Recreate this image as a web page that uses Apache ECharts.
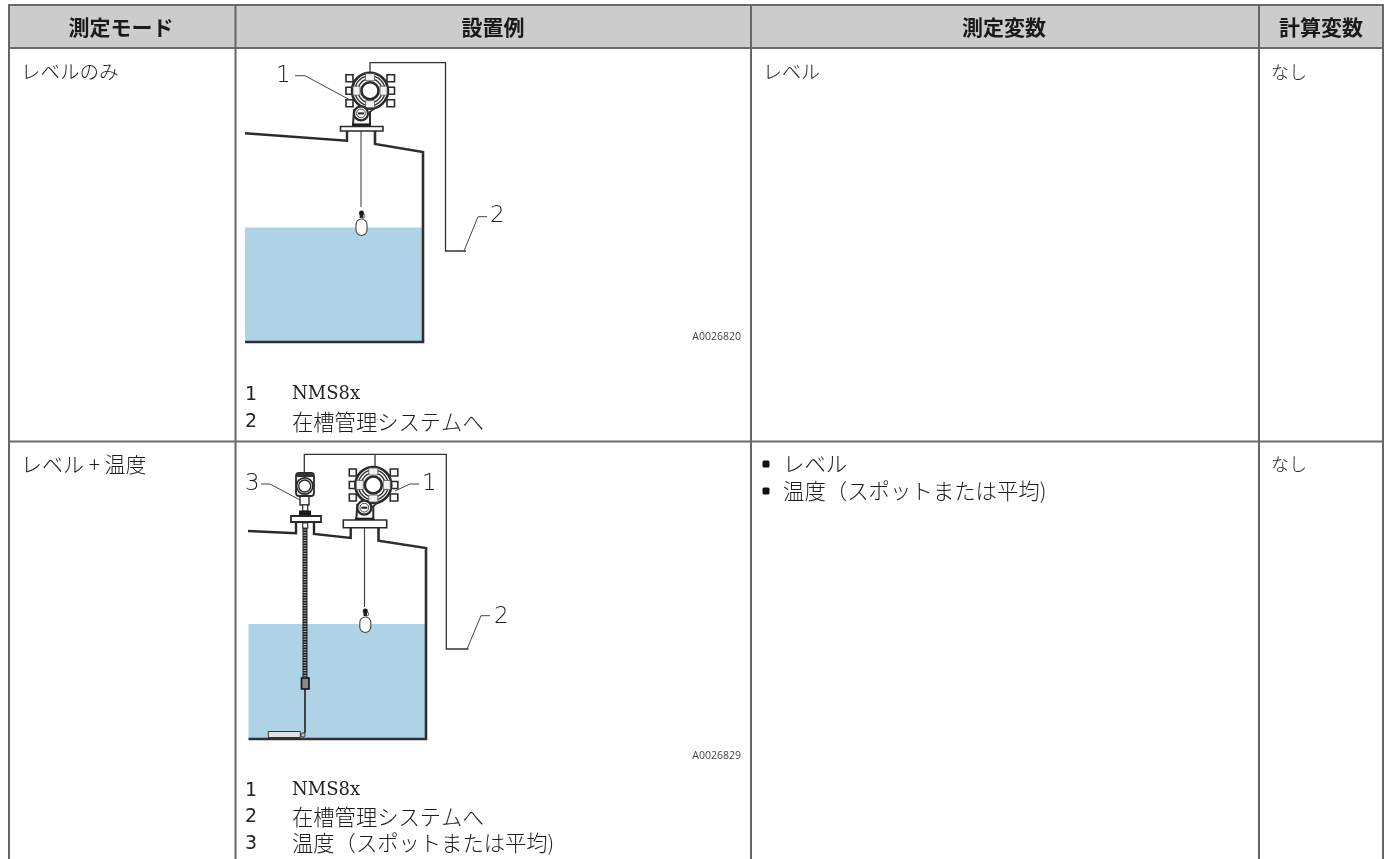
<!DOCTYPE html>
<html><head><meta charset="utf-8">
<style>html,body{margin:0;padding:0;background:#fff}#c{width:1391px;height:859px}</style>
<script src="https://cdn.jsdelivr.net/npm/echarts@6/dist/echarts.min.js"></script>
</head><body><div id="c"></div>
<script>
const headers = ['測定モード', '設置例', '測定変数', '計算変数'];
const modes = ['レベルのみ', 'レベル + 温度'];
const measured = [['レベル'], ['レベル', '温度（スポットまたは平均)']];
const calculated = ['なし', 'なし'];
const legend1 = [['1', 'NMS8x'], ['2', '在槽管理システムへ']];
const legend2 = [['1', 'NMS8x'], ['2', '在槽管理システムへ'], ['3', '温度（スポットまたは平均)']];
const figureIds = ['A0026820', 'A0026829'];

const CJK = '"Noto Sans CJK JP","Noto Sans",sans-serif';
const g = [];
const INK = '#2a2a2a';
function T(x, y, s, o = {}) {
  g.push({ type: 'text', z: 5, style: { x, y, text: s, fill: o.fill || '#1c1c1c', align: o.align || 'left', verticalAlign: 'middle',
    font: `${o.weight || '300'} ${o.size || 20.5}px ${o.family || CJK}` } });
}
function L(points, w = 1, c = INK, extra = {}) {
  g.push({ type: 'polyline', z: extra.z || 3, shape: { points }, style: Object.assign({ stroke: c, lineWidth: w, fill: null }, extra.style || {}) });
}
function R(x, y, w, h, fill, stroke, lw = 1, r = 0, z = 3) {
  g.push({ type: 'rect', z, shape: { x, y, width: w, height: h, r }, style: { fill, stroke: stroke || null, lineWidth: lw } });
}
function C(cx, cy, r, fill, stroke, lw = 1, z = 4) {
  g.push({ type: 'circle', z, shape: { cx, cy, r }, style: { fill, stroke, lineWidth: lw } });
}

/* table */
R(9, 5, 1374, 43, '#cccccc', null, 0, 0, 1);
const colX = [9, 235.5, 751, 1259, 1383];
colX.forEach(x => L([[x, 5], [x, 859]], 2, '#666', { z: 2 }));
[5, 48, 441.5].forEach(y => L([[8, y], [1384, y]], 2, '#6a6a6a', { z: 2 }));
const headCx = [121, 493, 1004, 1321];
headers.forEach((h, i) => T(headCx[i], 27, h, { align: 'center', weight: 'bold', size: 21, fill: '#1a1a1a' }));
T(21, 72, modes[0], { size: 19.5 }); T(21, 464, modes[1], { size: 21 });
T(763, 72, measured[0][0], { size: 19 });
T(1271, 72, calculated[0], { size: 18 }); T(1271, 464, calculated[1], { size: 18 });
[464, 491].forEach((y, i) => {
  R(762.5, y - 3.5, 7, 7, '#111', null, 0, 1.5);
  T(783, y, measured[1][i], { size: 21.4 });
});
const idStyle = { align: 'right', size: 10.5, family: '"Open Sans","DejaVu Sans",sans-serif', fill: '#444', weight: 'normal' };
T(741, 337, figureIds[0], idStyle);
T(741, 756, figureIds[1], idStyle);
function legend(rows, ys) {
  rows.forEach((r, i) => {
    T(245, ys[i] + 1, r[0], { size: 19, family: '"DejaVu Sans",sans-serif', fill: '#222', weight: 'normal' });
    const latin = /^[A-Za-z0-9]+$/.test(r[1]);
    T(292, ys[i], r[1], latin ? { size: 18, family: '"DejaVu Serif",serif', fill: '#222', weight: 'normal' } : { size: 21.3 });
  });
}
legend(legend1, [394, 421.5]);
legend(legend2, [790, 816.5, 843]);

/* instruments */
function bigHead(cx, cy) {
  [-12.5, 0, 12.5].forEach(d => {
    R(cx - 24, cy + d - 3.5, 7, 7, '#fff', INK, 1.6);
    R(cx + 17, cy + d - 3.5, 7.5, 7, '#fff', INK, 1.6);
  });
  C(cx, cy, 18, '#fff', INK, 2.6);
  C(cx, cy, 15, 'none', '#333', 1.4);
  C(cx, cy, 12, 'none', '#333', 1.4);
  [[0, -13.5], [0, 13.5], [-13.5, 0], [13.5, 0]].forEach(([dx, dy]) => {
    const w = dx === 0 ? 9 : 7, h = dx === 0 ? 7 : 9;
    R(cx + dx - w / 2, cy + dy - h / 2, w, h, '#f2f2f2', '#555', 0.8, 0, 4);
  });
  C(cx, cy, 8.5, '#fff', INK, 2.6);
  const bx = cx - 9, by = cy + 22.7;
  L([[bx - 7, by - 4], [bx - 8, by + 12], [bx + 9, by + 12], [bx + 9, by - 2]], 2, INK);
  L([[bx + 8, by - 1], [bx + 14, by - 5]], 1.6, INK);
  C(bx, by, 7, '#fff', INK, 2.2);
  C(bx, by, 4.4, '#fff', '#444', 1);
  R(bx - 3, by - 1, 6, 2, '#222', null, 0, 0, 5);
  R(bx - 9, by + 10, 19, 3.4, '#1d1d1d');
}
function flange(x1, x2, y1, y2) {
  R(x1, y1, x2 - x1, y2 - y1, '#fff', INK, 1.6);
}
function float(x, y1, y2, w) {
  R(x - w / 2, y1, w, y2 - y1, '#fff', '#444', 1.1, w / 2, 4);
  R(x - 1.8, y1 - 7, 3.6, 6, '#1a1a1a');
  C(x + 1.5, y1 - 3, 2, 'none', '#444', 0.8);
  C(x, y1 - 6, 2.3, '#1a1a1a', '#1a1a1a', 0.5);
}

/* diagram 1 */
R(245, 227.5, 177, 113.5, '#aed3e6', null, 0, 0, 1);
L([[245, 133.3], [347, 140.7], [347, 131]], 2.4, INK);
L([[375, 131], [375, 144], [423, 152], [423, 342], [245, 342]], 2.6, '#2e2e33');
L([[361, 131], [361, 207]], 1, '#333');
float(361.5, 219, 235.5, 11);
bigHead(370, 90.7);
flange(340.5, 383, 126.5, 131);
L([[370, 73], [370, 62.7], [445.5, 62.7], [445.5, 251], [466, 251]], 1.3, '#333');
L([[464, 251], [478, 216.7], [487, 216.7]], 1, '#444');
L([[295, 75.7], [305, 75.7], [350, 100]], 1, '#444');
const lab = { size: 23, family: '"DejaVu Sans Light","DejaVu Sans ExtraLight","DejaVu Sans",sans-serif', fill: '#222', weight: 'normal' };
T(276, 76, '1', lab);
T(490, 216.5, '2', lab);

/* diagram 2 */
R(248.5, 624, 177, 114, '#aed3e6', null, 0, 0, 1);
L([[248, 531], [296, 533.3], [296, 522]], 2.4, INK);
L([[314, 522], [314, 534], [350.7, 538], [350.7, 527.7]], 2.4, INK);
L([[378.5, 527.7], [378.5, 540.7], [426, 548], [426, 739], [248.5, 739]], 2.6, '#2e2e33');
L([[364.5, 527], [364.5, 607]], 1.2, '#444');
float(365.3, 617, 632.5, 11);
bigHead(373.3, 485);
flange(343.3, 386.7, 520, 527.7);
L([[305, 527], [305, 678]], 5, '#1d1d1d', { z: 3 });
L([[305, 527], [305, 678]], 3, '#bbb', { z: 4, style: { lineDash: [1, 1.6] } });
L([[305, 689], [305, 733]], 1.8, '#333');
R(301.5, 678, 7.5, 11, '#888', '#111', 1.6);
R(268.3, 731.5, 32, 6, '#e0e0e0', '#333', 1);
C(303, 735, 2.2, '#bbb', '#333', 1);
R(302.7, 523, 5, 5, '#fff', '#333', 1.2, 0, 4);
/* small transmitter */
R(300, 494, 9, 11, '#fff', INK, 1.4);
R(302.7, 505, 5, 6, '#fff', INK, 1.2);
R(299, 510.5, 12, 5, '#1a1a1a');
R(296, 473, 18, 23, '#fff', INK, 1.8, 3);
R(296, 473, 18, 4, '#333', null, 0, 1);
C(304.7, 486, 8.2, '#fff', INK, 1.8);
C(304.7, 486, 6, '#fff', INK, 1.4);
R(291, 516, 30, 6, '#fff', INK, 1.8);
L([[304.3, 472], [304.3, 454.3], [446.3, 454.3], [446.3, 649], [468.5, 649]], 1.3, '#333');
L([[375, 454.3], [375, 467]], 1.3, '#333');
L([[467, 649], [481, 615.7], [490, 615.7]], 1, '#444');
L([[419.3, 484], [410, 484], [395, 491]], 1, '#444');
L([[261, 484], [270, 484], [300, 500]], 1, '#444');
T(422, 484, '1', lab); T(494, 617.5, '2', lab); T(245, 484, '3', lab);

echarts.init(document.getElementById('c'), null, { renderer: 'canvas' }).setOption({
  animation: false, backgroundColor: '#fff', graphic: { elements: g }
});
</script></body></html>
